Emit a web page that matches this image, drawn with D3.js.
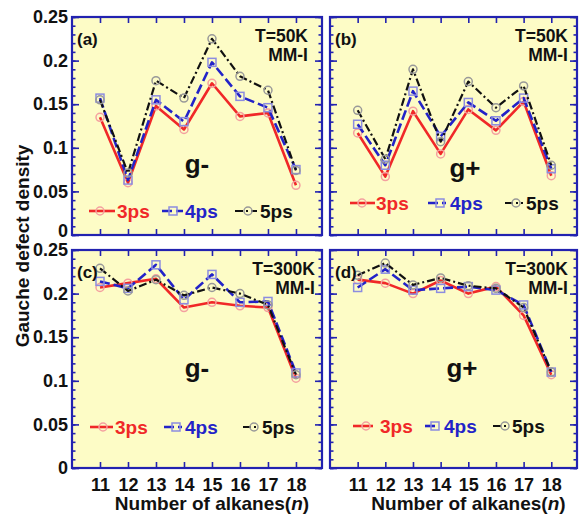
<!DOCTYPE html>
<html>
<head>
<meta charset="utf-8">
<script src="https://cdn.jsdelivr.net/npm/d3@7"></script>
<style>
body { margin: 0; background: #fff; }
text { font-family: "Liberation Sans", Arial, sans-serif; font-weight: bold; }
</style>
</head>
<body>
<svg width="579" height="514"></svg>
<script>
// chain length n
const alkanes = [11, 12, 13, 14, 15, 16, 17, 18];
const yTicks = [0, 0.05, 0.1, 0.15, 0.2, 0.25];
const seriesNames = ["3ps", "4ps", "5ps"];

// (a) T=50K g-
const a3ps = [0.135, 0.060, 0.148, 0.121, 0.174, 0.136, 0.140, 0.057];
const a4ps = [0.157, 0.063, 0.155, 0.130, 0.198, 0.159, 0.146, 0.075];
const a5ps = [0.155, 0.071, 0.177, 0.157, 0.225, 0.182, 0.166, 0.074];
// (b) T=50K g+
const b3ps = [0.117, 0.067, 0.142, 0.093, 0.144, 0.120, 0.153, 0.068];
const b4ps = [0.127, 0.080, 0.165, 0.113, 0.152, 0.131, 0.157, 0.076];
const b5ps = [0.143, 0.087, 0.190, 0.107, 0.176, 0.146, 0.171, 0.080];
// (c) T=300K g-
const c3ps = [0.207, 0.212, 0.217, 0.184, 0.190, 0.186, 0.184, 0.103];
const c4ps = [0.214, 0.206, 0.233, 0.193, 0.222, 0.190, 0.191, 0.109];
const c5ps = [0.229, 0.203, 0.216, 0.198, 0.207, 0.200, 0.187, 0.107];
// (d) T=300K g+
const d3ps = [0.216, 0.212, 0.200, 0.215, 0.200, 0.208, 0.175, 0.107];
const d4ps = [0.207, 0.228, 0.204, 0.206, 0.208, 0.204, 0.187, 0.110];
const d5ps = [0.221, 0.235, 0.210, 0.218, 0.209, 0.206, 0.184, 0.110];

const styles = [
  { color: "#f02828", mark: "#f4a0a0", dash: null, width: 2.6, shape: "circle" },
  { color: "#2323c8", mark: "#8c8ce0", dash: "10,4", width: 2.6, shape: "square" },
  { color: "#111", mark: "#999", dash: "8,3,2,3", width: 2.2, shape: "circle" }
];

const panels = [
  { tag: "(a)", temp: "T=50K", g: "g-", left: 72, top: 17, w: 250, h: 218, data: [a3ps, a4ps, a5ps],
    yLab: true, xLab: false, gx: 125, gy: 156, ly: 194, leg: [[17, 43, 28, 45], [90, 111, 101, 113], [163, 185, 176, 188]], tr: 14 },
  { tag: "(b)", temp: "T=50K", g: "g+", left: 330, top: 17, w: 247, h: 218, data: [b3ps, b4ps, b5ps],
    yLab: false, xLab: false, gx: 135, gy: 160, ly: 186, leg: [[20, 45, 32, 46], [98, 116, 110, 120], [175, 193, 186, 196]], tr: 9 },
  { tag: "(c)", temp: "T=300K", g: "g-", left: 72, top: 250, w: 250, h: 218, data: [c3ps, c4ps, c5ps],
    yLab: true, xLab: true, gx: 125, gy: 127, ly: 177, leg: [[18, 41, 31, 43], [92, 110, 104, 113], [171, 186, 182, 190]], tr: 7 },
  { tag: "(d)", temp: "T=300K", g: "g+", left: 330, top: 250, w: 247, h: 218, data: [d3ps, d4ps, d5ps],
    yLab: false, xLab: true, gx: 132, gy: 127, ly: 176, leg: [[23, 43, 36, 50], [95, 108, 105, 114], [163, 177, 175, 182]], tr: 9 }
];

const svg = d3.select("svg");
const frameColor = "#2222b0";

function marker(sel, shape, cx, cy, st) {
  if (shape === "circle") {
    sel.append("circle").attr("cx", cx).attr("cy", cy).attr("r", 4)
      .attr("fill", "none").attr("stroke", st.mark).attr("stroke-width", 1.5);
  } else {
    sel.append("rect").attr("x", cx - 4).attr("y", cy - 4).attr("width", 8).attr("height", 8)
      .attr("fill", "none").attr("stroke", st.mark).attr("stroke-width", 1.5);
  }
}

panels.forEach(p => {
  const g = svg.append("g").attr("transform", `translate(${p.left},${p.top})`);
  const x = d3.scaleLinear().domain([10, 18.93]).range([0, p.w]);
  const y = d3.scaleLinear().domain([0, 0.25]).range([p.h, 0]);

  g.append("rect").attr("width", p.w).attr("height", p.h).attr("fill", "#fdfcc6");

  // ticks on all four sides, pointing in
  const minor = d3.range(0, 0.2501, 0.01);
  const axes = [
    g.append("g").call(d3.axisLeft(y).tickValues(yTicks).tickSize(-7).tickPadding(4)
      .tickFormat(p.yLab ? (d => d === 0 ? "0" : String(d)) : "")),
    g.append("g").call(d3.axisLeft(y).tickValues(minor).tickSize(-3.5).tickFormat("")),
    g.append("g").attr("transform", `translate(${p.w},0)`)
      .call(d3.axisRight(y).tickValues(yTicks).tickSize(-7).tickFormat("")),
    g.append("g").attr("transform", `translate(${p.w},0)`)
      .call(d3.axisRight(y).tickValues(minor).tickSize(-3.5).tickFormat("")),
    g.append("g").call(d3.axisTop(x).tickValues(alkanes).tickSize(-6).tickFormat("")),
    g.append("g").attr("transform", `translate(0,${p.h})`)
      .call(d3.axisBottom(x).tickValues(alkanes).tickSize(-6).tickPadding(10)
        .tickFormat(p.xLab ? d3.format("d") : ""))
  ];
  axes.forEach(a => {
    a.select(".domain").remove();
    a.selectAll("line").attr("stroke", frameColor).attr("stroke-width", 1.6);
    a.selectAll("text").attr("font-size", 18).attr("fill", "#111")
      .style("font-family", "'Liberation Sans', Arial, sans-serif").style("font-weight", "bold");
  });
  // the bottom "0" of the upper panels sits up a little, as in the original
  axes[0].selectAll(".tick text").filter(d => d === 0 && !p.xLab).attr("dy", "0.1em");

  const line = d3.line().x((d, i) => x(alkanes[i])).y(d => y(d));
  p.data.forEach((vals, k) => {
    const st = styles[k];
    g.append("path").datum(vals).attr("d", line).attr("fill", "none")
      .attr("stroke", st.color).attr("stroke-width", st.width)
      .attr("stroke-dasharray", st.dash).attr("stroke-linejoin", "round");
    const m = g.append("g");
    vals.forEach((v, i) => marker(m, st.shape, x(alkanes[i]), y(v), st));
  });

  g.append("rect").attr("width", p.w).attr("height", p.h).attr("fill", "none")
    .attr("stroke", frameColor).attr("stroke-width", 2.2);

  g.append("text").attr("x", 5).attr("y", 28).attr("font-size", 17).attr("fill", "#111").text(p.tag);
  g.append("text").attr("x", p.w - p.tr).attr("y", 25).attr("text-anchor", "end")
    .attr("font-size", 17.5).attr("fill", "#111").text(p.temp);
  g.append("text").attr("x", p.w - p.tr).attr("y", 44).attr("text-anchor", "end")
    .attr("font-size", 17.5).attr("fill", "#111").text("MM-I");
  g.append("text").attr("x", p.gx).attr("y", p.gy).attr("text-anchor", "middle")
    .attr("font-size", 26).attr("fill", "#111").text(p.g);

  // legend
  p.leg.forEach((lg, k) => {
    const st = styles[k];
    g.append("line").attr("x1", lg[0]).attr("x2", lg[1]).attr("y1", p.ly).attr("y2", p.ly)
      .attr("stroke", st.color).attr("stroke-width", st.width).attr("stroke-dasharray", st.dash);
    marker(g, st.shape, lg[2], p.ly, st);
    g.append("text").attr("x", lg[3]).attr("y", p.ly + 7).attr("font-size", 19)
      .attr("fill", st.color).text(seriesNames[k]);
  });

  if (p.xLab) {
    const t = g.append("text").attr("x", p.w / 2 + 15).attr("y", p.h + 42)
      .attr("text-anchor", "middle").attr("font-size", 19).attr("fill", "#111");
    t.append("tspan").text("Number of alkanes(");
    t.append("tspan").attr("font-style", "italic").text("n");
    t.append("tspan").text(")");
  }
});

svg.append("text").attr("transform", "translate(29,246) rotate(-90)")
  .attr("text-anchor", "middle").attr("font-size", 19).attr("fill", "#111")
  .text("Gauche defect density");
</script>
</body>
</html>
